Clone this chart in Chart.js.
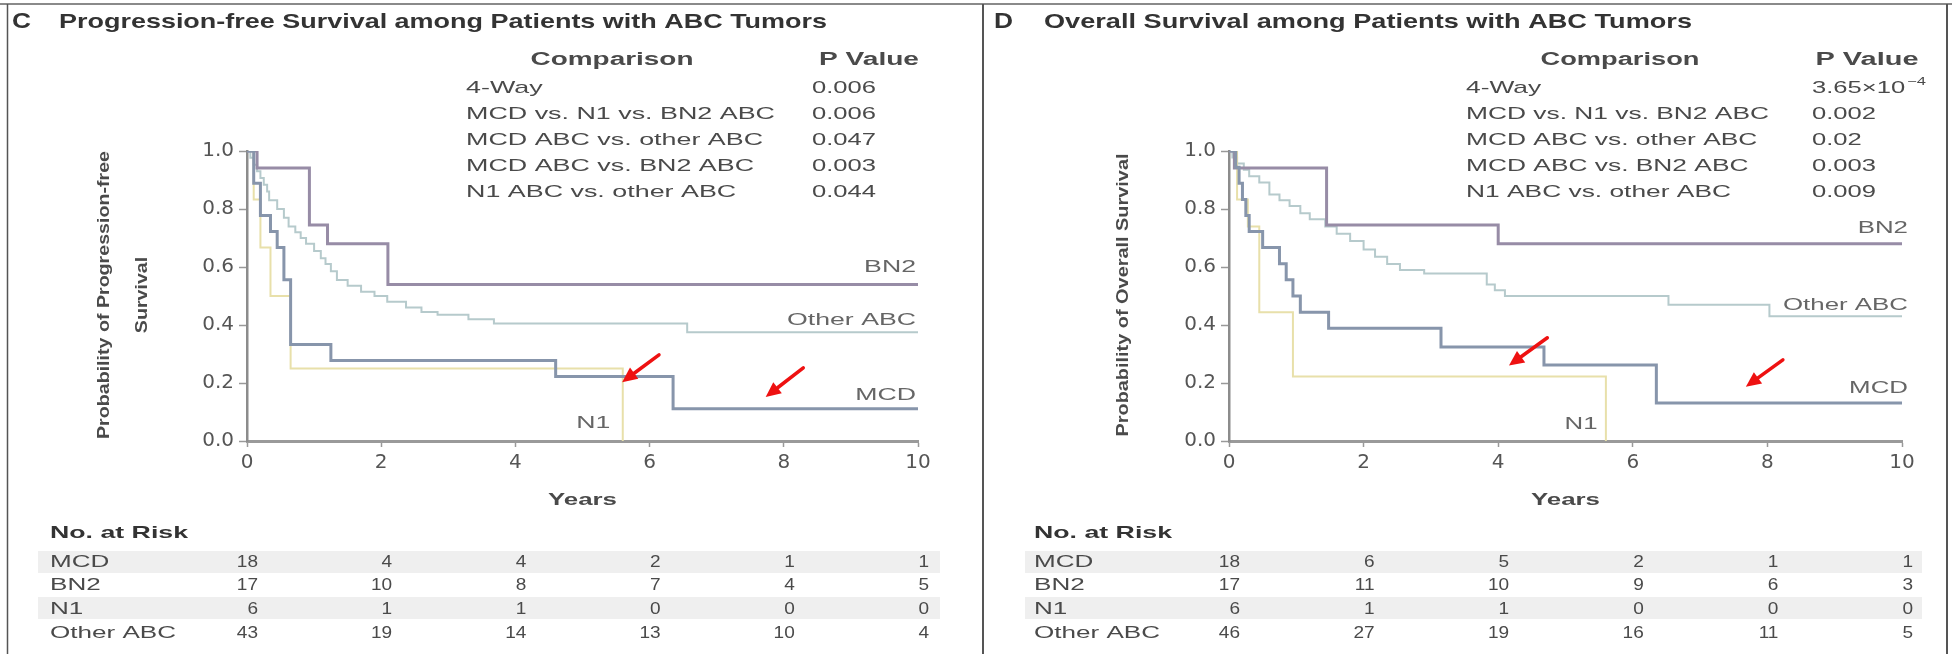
<!DOCTYPE html>
<html>
<head>
<meta charset="utf-8">
<title>Survival among Patients with ABC Tumors</title>
<script src="https://cdn.jsdelivr.net/npm/chart.js@4.4.1/dist/chart.umd.min.js"></script>
<style>
  html, body { margin: 0; padding: 0; background: #fff; }
  #fig { position: relative; width: 1952px; height: 654px; overflow: hidden; background: #fff; }
  #fig canvas { position: absolute; top: 0; }
</style>
</head>
<body>
<div id="fig">
  <canvas id="pfs" width="980" height="654" style="left:0"></canvas>
  <canvas id="os" width="972" height="654" style="left:980px"></canvas>
</div>
<script>
// ---------- data ----------
const groups = ['MCD', 'BN2', 'N1', 'Other ABC'];
const xTicks = [0, 2, 4, 6, 8, 10];
const yTicks = [0, 0.2, 0.4, 0.6, 0.8, 1.0];

const comparisons = ['4-Way', 'MCD vs. N1 vs. BN2 ABC', 'MCD ABC vs. other ABC', 'MCD ABC vs. BN2 ABC', 'N1 ABC vs. other ABC'];
const pfsPValues = ['0.006', '0.006', '0.047', '0.003', '0.044'];
const osPValues = ['3.65\u00d710^\u22124', '0.002', '0.02', '0.003', '0.009'];

// Kaplan-Meier steps: [years, probability after the step]
const pfsMCD = [[0,1],[0.1,0.889],[0.2,0.778],[0.35,0.722],[0.45,0.667],[0.55,0.556],[0.65,0.333],[1.25,0.278],[4.6,0.222],[6.35,0.111],[10,0.111]];
const pfsBN2 = [[0,1],[0.15,0.941],[0.93,0.745],[1.2,0.68],[2.1,0.54],[10,0.54]];
const pfsN1 = [[0,1],[0.1,0.833],[0.2,0.667],[0.35,0.5],[0.65,0.25],[5.6,0]];
const pfsOther = [[0,1],[0.05,0.977],[0.1,0.953],[0.15,0.93],[0.2,0.907],[0.25,0.884],[0.3,0.86],[0.33,0.83],[0.45,0.8],[0.55,0.77],[0.62,0.74],[0.72,0.72],[0.8,0.7],[0.88,0.68],[1.0,0.655],[1.1,0.63],[1.17,0.61],[1.25,0.585],[1.34,0.555],[1.5,0.535],[1.7,0.515],[1.9,0.5],[2.09,0.48],[2.37,0.46],[2.6,0.445],[2.84,0.435],[3.3,0.42],[3.68,0.405],[6.56,0.375],[10,0.375]];

const osMCD = [[0,1],[0.1,0.944],[0.15,0.889],[0.2,0.833],[0.25,0.778],[0.3,0.722],[0.5,0.667],[0.75,0.611],[0.85,0.556],[0.95,0.5],[1.06,0.444],[1.48,0.389],[3.15,0.324],[4.68,0.262],[6.35,0.131],[10,0.131]];
const osBN2 = [[0,1],[0.08,0.941],[1.45,0.745],[4.0,0.68],[10,0.68]];
const osN1 = [[0,1],[0.12,0.833],[0.28,0.74],[0.45,0.444],[0.95,0.222],[5.6,0]];
const osOther = [[0,1],[0.05,0.978],[0.12,0.957],[0.22,0.935],[0.3,0.913],[0.45,0.891],[0.6,0.85],[0.75,0.83],[0.9,0.81],[1.06,0.785],[1.2,0.765],[1.43,0.74],[1.6,0.715],[1.8,0.69],[2.0,0.66],[2.17,0.635],[2.35,0.61],[2.54,0.59],[2.9,0.578],[3.83,0.54],[3.95,0.52],[4.1,0.5],[6.53,0.47],[8.03,0.43],[10,0.43]];

// numbers at risk at each x tick
const pfsRiskMCD = [18, 4, 4, 2, 1, 1];
const pfsRiskBN2 = [17, 10, 8, 7, 4, 5];
const pfsRiskN1 = [6, 1, 1, 0, 0, 0];
const pfsRiskOther = [43, 19, 14, 13, 10, 4];
const osRiskMCD = [18, 6, 5, 2, 1, 1];
const osRiskBN2 = [17, 11, 10, 9, 6, 3];
const osRiskN1 = [6, 1, 1, 0, 0, 0];
const osRiskOther = [46, 27, 19, 16, 11, 5];

// ---------- styles ----------
const lineColors = ['#8795ab', '#978ca6', '#e8e0aa', '#b6cacc'];
const lineWidths = [3, 3, 2, 2];
const SANS = "'Liberation Sans', Arial, sans-serif";

// text drawn with a horizontal stretch (either a factor or a target width)
function txt(ctx, s, x, y, o) {
  ctx.save();
  ctx.font = o.font;
  ctx.fillStyle = o.color || '#444';
  ctx.textBaseline = 'middle';
  ctx.textAlign = 'left';
  const m = ctx.measureText(s).width;
  const sx = o.w ? o.w / m : (o.sx || 1);
  const w = m * sx;
  const x0 = o.align === 'right' ? x - w : o.align === 'center' ? x - w / 2 : x;
  ctx.translate(x0, y);
  ctx.scale(sx, 1);
  ctx.fillText(s, 0, 0);
  ctx.restore();
  return w;
}
function stretch(ctx, s, font, w) {
  ctx.save(); ctx.font = font;
  const m = ctx.measureText(s).width;
  ctx.restore();
  return w / m;
}
function vtxt(ctx, s, cx, cy, font, sx, color) {
  ctx.save();
  ctx.font = font; ctx.fillStyle = color; ctx.textAlign = 'center'; ctx.textBaseline = 'middle';
  ctx.translate(cx, cy); ctx.rotate(-Math.PI / 2); ctx.scale(sx, 1);
  ctx.fillText(s, 0, 0);
  ctx.restore();
}
function arrow(ctx, x1, y1, x2, y2) {
  const a = Math.atan2(y2 - y1, x2 - x1), L = 15, H = 7;
  const bx = x2 - L * Math.cos(a), by = y2 - L * Math.sin(a);
  ctx.save();
  ctx.strokeStyle = '#ee1111'; ctx.fillStyle = '#ee1111'; ctx.lineWidth = 3.5; ctx.lineCap = 'round';
  ctx.beginPath(); ctx.moveTo(x1, y1); ctx.lineTo(bx, by); ctx.stroke();
  ctx.beginPath();
  ctx.moveTo(x2, y2);
  ctx.lineTo(bx + H * Math.sin(a), by - H * Math.cos(a));
  ctx.lineTo(bx - H * Math.sin(a), by + H * Math.cos(a));
  ctx.closePath(); ctx.fill();
  ctx.restore();
}

// panel furniture: title, comparison table, axis titles, curve labels, arrows, risk table
function panelPlugin(p) {
  return {
    id: 'panel_' + p.letter,
    beforeDraw(chart) {
      const ctx = chart.ctx;
      ctx.save();
      ctx.fillStyle = '#fff';
      ctx.fillRect(0, 0, chart.width, chart.height);
      // shaded rows of the risk table
      ctx.fillStyle = '#efefef';
      ctx.fillRect(p.band[0], 551, p.band[1] - p.band[0], 22);
      ctx.fillRect(p.band[0], 597, p.band[1] - p.band[0], 22);
      // frame
      ctx.strokeStyle = '#8a8a8a'; ctx.lineWidth = 2;
      ctx.beginPath(); ctx.moveTo(0, 4); ctx.lineTo(chart.width, 4); ctx.stroke();
      ctx.strokeStyle = '#555'; ctx.lineWidth = p.frameW;
      p.frameX.forEach(fx => { ctx.beginPath(); ctx.moveTo(fx, 4); ctx.lineTo(fx, chart.height); ctx.stroke(); });
      ctx.restore();
    },
    afterDraw(chart) {
      const ctx = chart.ctx, xs = chart.scales.x, ys = chart.scales.y;
      const dark = '#333', mid = '#4a4a4a', soft = '#666';
      // title
      txt(ctx, p.letter, p.letterX, 22, { font: 'bold 22px ' + SANS, color: dark, w: 19 });
      txt(ctx, p.title, p.titleX, 22, { font: 'bold 21px ' + SANS, color: dark, w: p.titleW });
      // comparison table
      txt(ctx, 'Comparison', p.cmpHeadX, 60, { font: 'bold 18px ' + SANS, color: mid, w: p.cmpHeadW, align: 'center' });
      txt(ctx, 'P Value', p.pHeadX, 60, { font: 'bold 18px ' + SANS, color: mid, w: p.pHeadW, align: 'center' });
      const rowFont = '17px ' + SANS;
      const rsx = stretch(ctx, comparisons[1], rowFont, p.rowW);
      const psx = stretch(ctx, '0.006', rowFont, 64);
      const rowY = [88, 114, 140, 166, 192];
      comparisons.forEach((c, i) => {
        txt(ctx, c, p.cmpX, rowY[i], { font: rowFont, color: mid, sx: rsx });
        const pv = p.pvals[i];
        if (pv.includes('^')) {
          const [base, sup] = pv.split('^');
          const w = txt(ctx, base, p.pX, rowY[i], { font: rowFont, color: mid, sx: psx });
          txt(ctx, sup, p.pX + w + 2, rowY[i] - 6, { font: '11px ' + SANS, color: mid, sx: psx });
        } else {
          txt(ctx, pv, p.pX, rowY[i], { font: rowFont, color: mid, sx: psx });
        }
      });
      // axis titles
      const atFont = 'bold 17px ' + SANS;
      const asx = stretch(ctx, p.yTitle[0], atFont, p.yTitleLen);
      p.yTitle.forEach((t, i) => vtxt(ctx, t, p.yTitleX[i], 295, atFont, asx, mid));
      txt(ctx, 'Years', (chart.chartArea.left + chart.chartArea.right) / 2, 500, { font: atFont, color: mid, w: 69, align: 'center' });
      // curve labels
      const lFont = '17px ' + SANS;
      const lsx = stretch(ctx, 'Other ABC', lFont, p.labelW);
      groups.forEach((g, i) => {
        const a = p.labelAt[i];
        const px = xs.getPixelForValue(a[0]), py = ys.getPixelForValue(a[1]);
        if (a[2] === 'c') txt(ctx, g, px, py, { font: lFont, color: soft, sx: lsx, align: 'center' });
        else txt(ctx, g, px + p.labelDx, py, { font: lFont, color: soft, sx: lsx, align: 'right' });
      });
      // arrows
      p.arrows.forEach(a => arrow(ctx, xs.getPixelForValue(a[0]), ys.getPixelForValue(a[1]),
                                        xs.getPixelForValue(a[2]), ys.getPixelForValue(a[3])));
      // numbers at risk
      txt(ctx, 'No. at Risk', p.riskX, 533, { font: 'bold 17px ' + SANS, color: dark, w: 138 });
      const rkFont = '17px ' + SANS;
      const ksx = stretch(ctx, 'Other ABC', rkFont, 126);
      const riskY = [562, 585, 609, 633];
      groups.forEach((g, i) => {
        txt(ctx, g, p.riskX, riskY[i], { font: rkFont, color: mid, sx: ksx });
        p.risk[i].forEach((n, j) => {
          txt(ctx, String(n), xs.getPixelForValue(xTicks[j]) + 11, riskY[i], { font: rkFont, color: mid, sx: 1.12, align: 'right' });
        });
      });
    }
  };
}

function makeChart(id, series, p) {
  const canvas = document.getElementById(id);
  const W = canvas.width, H = canvas.height;
  const yW = 60, xH = 40;
  return new Chart(canvas, {
    type: 'line',
    data: {
      datasets: groups.map((g, i) => ({
        label: g,
        data: series[i].map(([x, y]) => ({ x, y })),
        borderColor: lineColors[i],
        borderWidth: lineWidths[i],
        stepped: 'before',
        pointRadius: 0,
        fill: false,
        tension: 0
      }))
    },
    options: {
      responsive: false,
      animation: false,
      devicePixelRatio: 1,
      layout: { padding: { left: p.areaLeft - yW, right: W - p.areaRight, top: 151, bottom: H - 441 - xH } },
      plugins: { legend: { display: false }, tooltip: { enabled: false }, title: { display: false } },
      scales: {
        x: {
          type: 'linear', min: 0, max: 10,
          afterBuildTicks: s => { s.ticks = xTicks.map(v => ({ value: v })); },
          afterFit: s => { s.height = xH; },
          ticks: { color: '#555', font: { family: "'DejaVu Sans', sans-serif", size: 20 }, padding: 4, maxRotation: 0, callback: v => String(v) },
          grid: { display: true, drawOnChartArea: false, drawTicks: true, tickLength: 6, tickWidth: 1.5, tickColor: '#999' },
          border: { display: true, color: '#9a9a9a', width: 3 }
        },
        y: {
          type: 'linear', min: 0, max: 1,
          afterBuildTicks: s => { s.ticks = yTicks.map(v => ({ value: v })); },
          afterFit: s => { s.width = yW; },
          ticks: { color: '#555', font: { family: "'DejaVu Sans', sans-serif", size: 20 }, padding: 5, callback: v => v.toFixed(1) },
          grid: { display: true, drawOnChartArea: false, drawTicks: true, tickLength: 8, tickWidth: 1.5, tickColor: '#999' },
          border: { display: true, color: '#8c8c8c', width: 2.5 }
        }
      }
    },
    plugins: [panelPlugin(p)]
  });
}

makeChart('pfs', [pfsMCD, pfsBN2, pfsN1, pfsOther], {
  letter: 'C', title: 'Progression-free Survival among Patients with ABC Tumors',
  letterX: 12, titleX: 59, titleW: 768,
  areaLeft: 247, areaRight: 918,
  cmpHeadX: 612, cmpHeadW: 163, pHeadX: 869, pHeadW: 100,
  cmpX: 466, pX: 812, rowW: 309, pvals: pfsPValues,
  yTitle: ['Probability of Progression-free', 'Survival'], yTitleX: [104, 142], yTitleLen: 288,
  labelAt: [[10, 0.159], [10, 0.6], [5.16, 0.062, 'c'], [10, 0.417]], labelDx: -2, labelW: 129,
  arrows: [[6.14, 0.297, 5.59, 0.203], [8.29, 0.252, 7.73, 0.152]],
  riskX: 50, risk: [pfsRiskMCD, pfsRiskBN2, pfsRiskN1, pfsRiskOther], band: [38, 940],
  frameX: [7.5], frameW: 1.5
});

makeChart('os', [osMCD, osBN2, osN1, osOther], {
  letter: 'D', title: 'Overall Survival among Patients with ABC Tumors',
  letterX: 14, titleX: 64, titleW: 648,
  areaLeft: 249, areaRight: 922,
  cmpHeadX: 640, cmpHeadW: 159, pHeadX: 887, pHeadW: 103,
  cmpX: 486, pX: 832, rowW: 303, pvals: osPValues,
  yTitle: ['Probability of Overall Survival'], yTitleX: [143], yTitleLen: 283,
  labelAt: [[10, 0.18], [10, 0.733], [5.23, 0.059, 'c'], [10, 0.467]], labelDx: 6, labelW: 125,
  arrows: [[4.73, 0.356, 4.16, 0.26], [8.23, 0.28, 7.68, 0.187]],
  riskX: 54, risk: [osRiskMCD, osRiskBN2, osRiskN1, osRiskOther], band: [45, 942],
  frameX: [3, 967], frameW: 2
});
</script>
</body>
</html>
